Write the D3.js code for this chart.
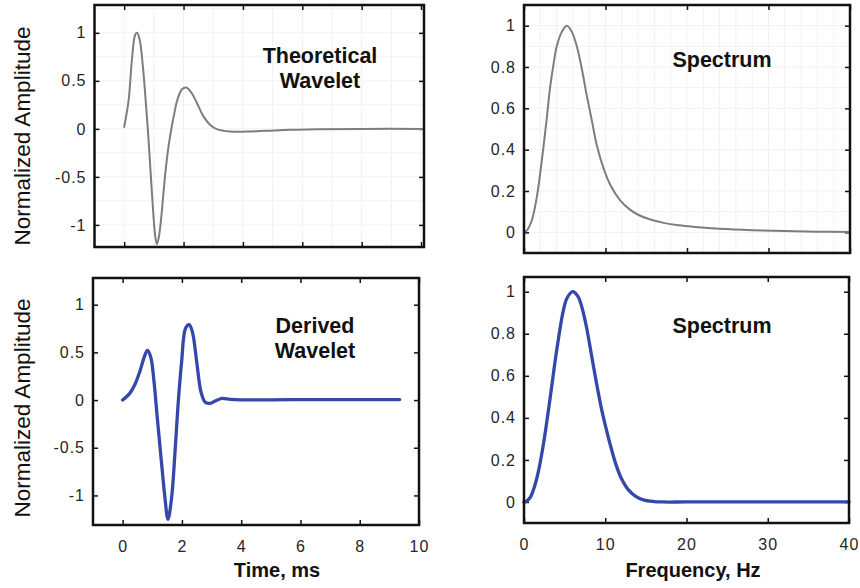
<!DOCTYPE html>
<html>
<head>
<meta charset="utf-8">
<script src="https://cdn.jsdelivr.net/npm/d3@7"></script>
<style>
  html, body { margin: 0; padding: 0; background: #fff; }
  svg { display: block; }
  text { font-family: "Liberation Sans", Arial, Helvetica, sans-serif; }
</style>
</head>
<body>
<svg id="fig" width="860" height="588"></svg>
<script>
// Theoretical wavelet: time (ms) and normalized amplitude
const theoTime = [0, 0.15, 0.26, 0.37, 0.43, 0.52, 0.63, 0.74, 0.82, 0.9, 0.98, 1.04, 1.1, 1.16, 1.24, 1.32, 1.4, 1.5, 1.6, 1.7, 1.78, 1.94, 2.09, 2.28, 2.45, 2.67, 2.9, 3.12, 3.57, 4.13, 4.8, 5.6, 6.5, 8, 10.1];
const theoAmp  = [0.02, 0.30, 0.72, 0.98, 1.0, 0.93, 0.65, 0.23, -0.11, -0.5, -0.88, -1.1, -1.2, -1.14, -0.95, -0.68, -0.42, -0.17, 0.02, 0.18, 0.29, 0.41, 0.43, 0.37, 0.27, 0.13, 0.04, -0.003, -0.028, -0.028, -0.02, -0.01, -0.004, 0, 0];

// Theoretical spectrum: frequency (Hz) and normalized amplitude
const theoFreq = [0, 0.33, 0.94, 1.56, 1.97, 2.38, 2.79, 3.2, 3.61, 4.02, 4.64, 5.25, 5.87, 6.48, 7.1, 7.71, 8.33, 8.94, 9.76, 10.58, 11.8, 13.0, 14.0, 15.5, 17, 19, 21, 24, 28, 32, 36, 40];
const theoSpec = [0, 0.008, 0.056, 0.168, 0.28, 0.41, 0.55, 0.70, 0.81, 0.90, 0.97, 1.0, 0.97, 0.90, 0.79, 0.66, 0.54, 0.42, 0.31, 0.23, 0.155, 0.11, 0.085, 0.062, 0.047, 0.034, 0.026, 0.017, 0.01, 0.006, 0.003, 0.002];

// Derived wavelet
const derivTime = [0, 0.24, 0.41, 0.58, 0.75, 0.84, 0.95, 1.06, 1.17, 1.31, 1.42, 1.53, 1.65, 1.76, 1.87, 1.99, 2.12, 2.24, 2.35, 2.5, 2.64, 2.78, 2.95, 3.12, 3.35, 3.63, 4.0, 5, 6, 7, 8, 9.35];
const derivAmp  = [0, 0.07, 0.16, 0.30, 0.47, 0.52, 0.45, 0.19, -0.19, -0.65, -1.0, -1.25, -1.03, -0.58, -0.05, 0.40, 0.75, 0.79, 0.72, 0.40, 0.09, -0.02, -0.035, -0.01, 0.018, 0.008, 0.003, 0.003, 0.004, 0.005, 0.005, 0.005];

// Derived spectrum
const derivFreq = [0, 0.12, 0.74, 1.56, 2.37, 3.2, 4.02, 4.84, 5.3, 6.0, 6.6, 7.1, 7.7, 8.3, 8.9, 9.5, 10.1, 10.7, 11.3, 12.0, 12.8, 13.7, 14.7, 16, 17, 20, 30, 40];
const derivSpec = [0, 0, 0.02, 0.11, 0.27, 0.49, 0.72, 0.91, 0.97, 1.0, 0.98, 0.93, 0.83, 0.70, 0.57, 0.45, 0.35, 0.26, 0.18, 0.11, 0.06, 0.028, 0.01, 0.002, 0, 0, 0, 0];

// Tick values and labels
const ampTicks = [-1, -0.5, 0, 0.5, 1];
const ampLabels = ["-1", "-0.5", "0", "0.5", "1"];
const specTicks = [0, 0.2, 0.4, 0.6, 0.8, 1];
const specLabels = ["0", "0.2", "0.4", "0.6", "0.8", "1"];
const timeTicks = [0, 2, 4, 6, 8, 10];
const timeLabels = ["0", "2", "4", "6", "8", "10"];
const freqTicks = [0, 10, 20, 30, 40];
const freqLabels = ["0", "10", "20", "30", "40"];

const svg = d3.select("#fig");
const GRAY = "#7d7d7d", BLUE = "#3548aa";

function panel(cfg) {
  const x = d3.scaleLinear().domain(cfg.xDomain).range([cfg.left, cfg.right]);
  const y = d3.scaleLinear().domain(cfg.yDomain).range([cfg.bottom, cfg.top]);
  const g = svg.append("g");

  // faint grid
  if (cfg.grid) {
    const gg = g.append("g").attr("stroke", "#f6eff1").attr("stroke-width", 1);
    cfg.grid.x.forEach(v => gg.append("line")
      .attr("x1", x(v)).attr("x2", x(v)).attr("y1", cfg.top).attr("y2", cfg.bottom));
    cfg.grid.y.forEach(v => gg.append("line")
      .attr("y1", y(v)).attr("y2", y(v)).attr("x1", cfg.left).attr("x2", cfg.right));
  }

  const fmt = (ticks, labels) => v => labels[ticks.indexOf(v)];

  // left axis with labels
  const left = g.append("g").attr("transform", `translate(${cfg.left},0)`)
    .call(d3.axisLeft(y).tickValues(cfg.yTicks).tickFormat(fmt(cfg.yTicks, cfg.yLabels))
      .tickSizeInner(-5).tickSizeOuter(0).tickPadding(8));
  // right axis, marks only
  const right = g.append("g").attr("transform", `translate(${cfg.right},0)`)
    .call(d3.axisRight(y).tickValues(cfg.yTicks).tickFormat("").tickSizeInner(-5).tickSizeOuter(0));
  // bottom axis
  const bottom = g.append("g").attr("transform", `translate(0,${cfg.bottom})`)
    .call(d3.axisBottom(x).tickValues(cfg.xTicks)
      .tickFormat(cfg.showX ? fmt(cfg.xTicks, cfg.xLabels) : "")
      .tickSizeInner(-5).tickSizeOuter(0).tickPadding(16));
  // top axis, marks only
  const top = g.append("g").attr("transform", `translate(0,${cfg.top})`)
    .call(d3.axisTop(x).tickValues(cfg.xTicks).tickFormat("").tickSizeInner(-5).tickSizeOuter(0));

  [left, right, bottom, top].forEach(a => {
    a.select(".domain").remove();
    a.selectAll(".tick line").attr("stroke", "#111").attr("stroke-width", 1.5);
    a.selectAll("text").attr("font-size", 16).attr("fill", "#262626")
      .attr("letter-spacing", "1px")
      .style("font-family", '"Liberation Sans", Arial, sans-serif');
  });

  // curve
  const pts = cfg.xs.map((v, i) => [v, cfg.ys[i]]);
  g.append("path").datum(pts)
    .attr("fill", "none").attr("stroke", cfg.color).attr("stroke-width", cfg.width)
    .attr("stroke-linejoin", "round").attr("stroke-linecap", "round")
    .attr("d", d3.line().x(d => x(d[0])).y(d => y(d[1])).curve(d3.curveCatmullRom.alpha(0.5)));

  // frame
  g.append("rect").attr("x", cfg.left).attr("y", cfg.top)
    .attr("width", cfg.right - cfg.left).attr("height", cfg.bottom - cfg.top)
    .attr("fill", "none").attr("stroke", "#111").attr("stroke-width", 2.5);

  // panel title
  const t = g.append("text").attr("font-weight", "bold").attr("font-size", 21.5)
    .attr("fill", "#111").attr("text-anchor", "middle");
  cfg.title.forEach((line, i) => t.append("tspan")
    .attr("x", cfg.titleX).attr("y", cfg.titleY + i * 24.5).text(line));
  return g;
}

// top-left: theoretical wavelet
panel({
  left: 94.5, right: 424, top: 5, bottom: 247,
  xDomain: [-1, 10.1], yDomain: [-1.23, 1.29],
  xTicks: timeTicks, xLabels: timeLabels, showX: false,
  yTicks: ampTicks, yLabels: ampLabels,
  grid: { x: d3.range(0, 11, 1), y: d3.range(-1.25, 1.3, 0.25) },
  xs: theoTime, ys: theoAmp, color: GRAY, width: 2,
  title: ["Theoretical", "Wavelet"], titleX: 320, titleY: 63
});

// top-right: theoretical spectrum
panel({
  left: 524, right: 850, top: 5, bottom: 253,
  xDomain: [0, 40], yDomain: [-0.1, 1.1],
  xTicks: freqTicks, xLabels: freqLabels, showX: false,
  yTicks: specTicks, yLabels: specLabels,
  grid: { x: d3.range(0, 41, 2), y: d3.range(0, 1.05, 0.1) },
  xs: theoFreq, ys: theoSpec, color: GRAY, width: 2,
  title: ["Spectrum"], titleX: 722, titleY: 67
});

// bottom-left: derived wavelet
panel({
  left: 93, right: 419, top: 278, bottom: 525,
  xDomain: [-1, 10], yDomain: [-1.31, 1.28],
  xTicks: timeTicks, xLabels: timeLabels, showX: true,
  yTicks: ampTicks, yLabels: ampLabels,
  xs: derivTime, ys: derivAmp, color: BLUE, width: 3.3,
  title: ["Derived", "Wavelet"], titleX: 315, titleY: 333
});

// bottom-right: derived spectrum
panel({
  left: 524, right: 849, top: 277, bottom: 523,
  xDomain: [0, 40], yDomain: [-0.1, 1.07],
  xTicks: freqTicks, xLabels: freqLabels, showX: true,
  yTicks: specTicks, yLabels: specLabels,
  xs: derivFreq, ys: derivSpec, color: BLUE, width: 3.3,
  title: ["Spectrum"], titleX: 722, titleY: 333
});

// axis titles
[[136], [408]].forEach(([cy]) => {
  svg.append("text").attr("transform", `translate(30,${cy}) rotate(-90)`)
    .attr("text-anchor", "middle").attr("font-size", 22.5).attr("fill", "#111")
    .text("Normalized Amplitude");
});
svg.append("text").attr("x", 277).attr("y", 577).attr("text-anchor", "middle")
  .attr("font-size", 20).attr("font-weight", "bold").attr("fill", "#111").text("Time, ms");
svg.append("text").attr("x", 693).attr("y", 577).attr("text-anchor", "middle")
  .attr("font-size", 20).attr("font-weight", "bold").attr("fill", "#111").text("Frequency, Hz");
</script>
</body>
</html>
